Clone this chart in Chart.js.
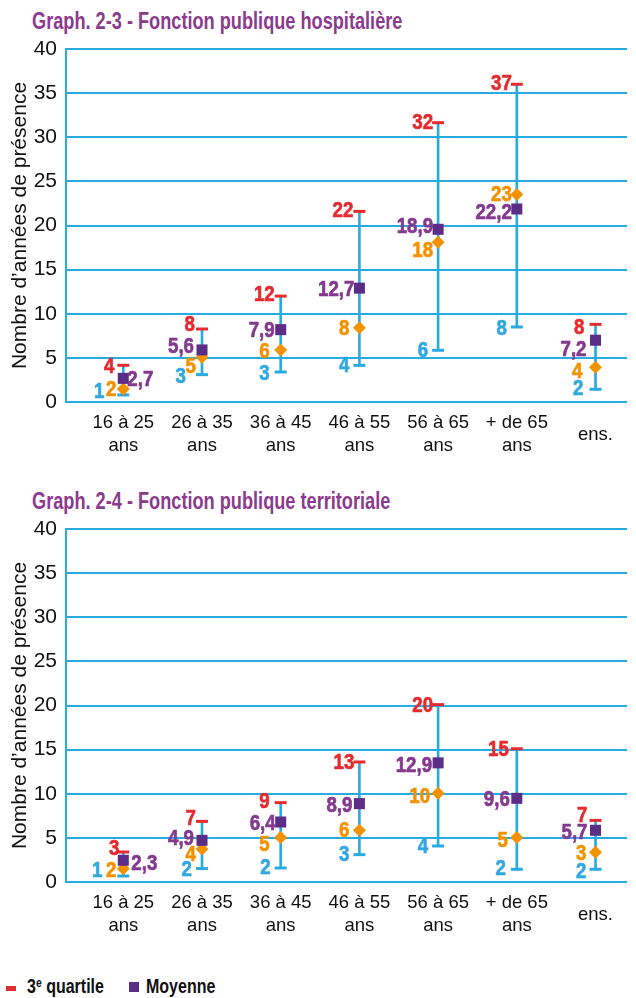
<!DOCTYPE html>
<html><head><meta charset="utf-8">
<script src="https://cdn.jsdelivr.net/npm/chart.js@4/dist/chart.umd.min.js"></script>
<style>
html,body{margin:0;padding:0;background:#fff;width:636px;height:998px;overflow:hidden;position:relative;}
.title{position:absolute;left:32px;font:bold 24px 'Liberation Sans',Arial,sans-serif;color:#8b3a8e;transform:scaleX(0.757);transform-origin:left top;white-space:nowrap;}
canvas{position:absolute;left:0;}
.leg{position:absolute;top:975px;font:bold 20px 'Liberation Sans',Arial,sans-serif;color:#111;white-space:nowrap;transform:scaleX(0.8);transform-origin:left top;}
.leg sup{font-size:13px;vertical-align:6px;line-height:0;}
.sw{position:absolute;}
</style></head><body>
<div class="title" style="top:7px">Graph. 2-3 - Fonction publique hospitalière</div>
<canvas id="c1" width="636" height="437" style="top:25px"></canvas>
<div class="title" style="top:487px">Graph. 2-4 - Fonction publique territoriale</div>
<canvas id="c2" width="636" height="437" style="top:505px"></canvas>
<div class="sw" style="left:6px;top:986px;width:10px;height:5px;background:#e52b2f"></div>
<div class="leg" style="left:27px">3<sup>e</sup> quartile</div>
<div class="sw" style="left:129px;top:982px;width:10px;height:10px;background:#5c2d87"></div>
<div class="leg" style="left:146px">Moyenne</div>
<script>
// ---- data ----
const categories = [["16 à 25","ans"],["26 à 35","ans"],["36 à 45","ans"],["46 à 55","ans"],["56 à 65","ans"],["+ de 65","ans"],["ens."]];
const yTicks = [0,5,10,15,20,25,30,35,40];

// Fonction publique hospitalière
const hospQ1     = [0.8, 3.1, 3.4, 4.15, 5.86, 8.5, 1.44];
const hospMedian = [1.47, 5.06, 5.9, 8.4, 18.1, 23.5, 3.93];
const hospMean   = [2.68, 5.9, 8.2, 12.9, 19.57, 21.87, 7.0];
const hospQ3     = [4.16, 8.27, 12.0, 21.6, 31.65, 36.0, 8.8];
const hospQ1Lbl     = ["1","3","3","4","6","8","2"];
const hospMedianLbl = ["2","5","6","8","18","23","4"];
const hospMeanLbl   = ["2,7","5,6","7,9","12,7","18,9","22,2","7,2"];
const hospQ3Lbl     = ["4","8","12","22","32","37","8"];

// Fonction publique territoriale
const terrQ1     = [0.68, 1.52, 1.59, 3.1, 4.08, 1.44, 1.44];
const terrMedian = [1.5, 3.74, 5.03, 5.86, 10.05, 5.03, 3.36];
const terrMean   = [2.46, 4.72, 6.8, 8.88, 13.5, 9.48, 5.86];
const terrQ3     = [3.4, 6.87, 8.99, 13.6, 20.1, 15.1, 6.98];
const terrQ1Lbl     = ["1","2","2","3","4","2","2"];
const terrMedianLbl = ["2","4","5","6","10","5","3"];
const terrMeanLbl   = ["2,3","4,9","6,4","8,9","12,9","9,6","5,7"];
const terrQ3Lbl     = ["3","7","9","13","20","15","7"];

// ---- label layout (pixel offsets from the mark; style, not data) ----
const hospLayout = {
  q3:     {dx:[-9,-7,-6,-6,-5,-5,-11], dy:[0,-6,-3,-2,-2,-2,2]},
  mean:   {dx:[4,-8,-6,-5,-5,-5,-9],   dy:[0,-5,-1,0,-4,2,8], left:[0]},
  median: {dx:[-7,-6,-11,-10,-5,-5,-13], dy:[-1,8,0,-1,7,-2,3]},
  q1:     {dx:[-19,-16,-11,-10,-10,-10,-12], dy:[-5,0,0,-1,-1,0,-2]}
};
const terrLayout = {
  q3:     {dx:[-4,-6,-11,-5,-5,-8,-8], dy:[-5,-4,-3,-1,-1,-1,-6]},
  mean:   {dx:[8,-8,-5,-7,-6,-7,-8],   dy:[2,-3,0,0,1,0,1], left:[0]},
  median: {dx:[-7,-6,-11,-10,-8,-9,-9], dy:[0,4,5,-1,2,1,0]},
  q1:     {dx:[-21,-10,-10,-10,-10,-11,-9], dy:[-7,-1,-2,-2,-1,-2,1]}
};

const BLUE = '#29abe2', RED = '#e52b2f', ORANGE = '#f39200', PURPLE = '#5c2d87';
const LBL = {q3:RED, mean:'#843a8f', median:ORANGE, q1:'#33a8df'};
const SANS = "'Liberation Sans',Arial,sans-serif";

function pts(arr){ return arr.map((v,i)=>({x:i,y:v})); }

function makeChart(id, q1, med, mean, q3, lbls, layout){
  const labelPlugin = {
    id:'valueLabels',
    afterDatasetsDraw(chart){
      const {ctx, scales:{x,y}} = chart;
      const series = {q3:[q3,lbls.q3], mean:[mean,lbls.mean], median:[med,lbls.median], q1:[q1,lbls.q1]};
      Object.keys(series).forEach(k=>{
        const [vals, txt] = series[k];
        const L = layout[k];
        txt.forEach((t,i)=>{
          const px = x.getPixelForValue(i) + L.dx[i];
          const py = y.getPixelForValue(vals[i]) + L.dy[i] + 8;
          ctx.save();
          ctx.font = "bold 22px " + SANS;
          ctx.textBaseline = 'alphabetic';
          ctx.fillStyle = LBL[k];
          ctx.strokeStyle = LBL[k];
          ctx.lineWidth = 0.7;
          ctx.lineJoin = 'round';
          ctx.textAlign = (L.left && L.left.includes(i)) ? 'left' : 'right';
          ctx.translate(px, py);
          ctx.scale(0.85, 1);
          ctx.fillText(t, 0, 0);
          ctx.strokeText(t, 0, 0);
          ctx.restore();
        });
      });
    }
  };
  return new Chart(document.getElementById(id), {
    type:'bar',
    data:{
      datasets:[
        {type:'line', label:'Moyenne', data:pts(mean), showLine:false, pointStyle:'rect', pointRadius:7.8, pointHoverRadius:7.8, backgroundColor:PURPLE, borderWidth:0, order:1},
        {type:'line', label:'Médiane', data:pts(med), showLine:false, pointStyle:'rectRot', pointRadius:6.5, pointHoverRadius:6.5, backgroundColor:ORANGE, borderWidth:0, order:2},
        {type:'line', label:'3e quartile', data:pts(q3), showLine:false, pointStyle:'line', pointRadius:6, pointBorderWidth:3, borderColor:RED, backgroundColor:RED, order:3},
        {type:'line', label:'1er quartile', data:pts(q1), showLine:false, pointStyle:'line', pointRadius:6, pointBorderWidth:3, borderColor:BLUE, backgroundColor:BLUE, order:4},
        {type:'bar', label:'Intervalle', data:q1.map((v,i)=>({x:i,y:[v,q3[i]]})), backgroundColor:BLUE, borderWidth:0, barThickness:2, grouped:false, order:5}
      ]
    },
    options:{
      responsive:false, animation:false,
      layout:{padding:{top:24,right:2,left:0,bottom:0}},
      plugins:{legend:{display:false}, tooltip:{enabled:false}},
      scales:{
        x:{type:'linear', min:-0.728, max:6.40, offset:false,
           grid:{display:false}, border:{display:false},
           afterBuildTicks(s){ s.ticks = categories.map((c,i)=>({value:i})); },
           afterFit(s){ s.height = 60; },
           ticks:{autoSkip:false, maxRotation:0, minRotation:0, crossAlign:'center', padding:13,
                  color:'#111', font:{family:SANS, size:18.5, lineHeight:'23px'},
                  callback:(v)=>categories[v]}
        },
        y:{min:0, max:40,
           afterBuildTicks(s){ s.ticks = yTicks.map(v=>({value:v})); },
           afterFit(s){ s.width = 66; },
           grid:{color:BLUE, lineWidth:2, drawTicks:false},
           border:{display:true, color:BLUE, width:2},
           ticks:{padding:9, color:'#111', font:{family:SANS, size:21}},
           title:{display:true, text:'Nombre d’années de présence', color:'#111',
                  font:{family:SANS, size:21}, padding:{top:8,bottom:0}}
        }
      }
    },
    plugins:[labelPlugin]
  });
}

makeChart('c1', hospQ1, hospMedian, hospMean, hospQ3,
  {q1:hospQ1Lbl, median:hospMedianLbl, mean:hospMeanLbl, q3:hospQ3Lbl}, hospLayout);
makeChart('c2', terrQ1, terrMedian, terrMean, terrQ3,
  {q1:terrQ1Lbl, median:terrMedianLbl, mean:terrMeanLbl, q3:terrQ3Lbl}, terrLayout);
</script>
</body></html>
